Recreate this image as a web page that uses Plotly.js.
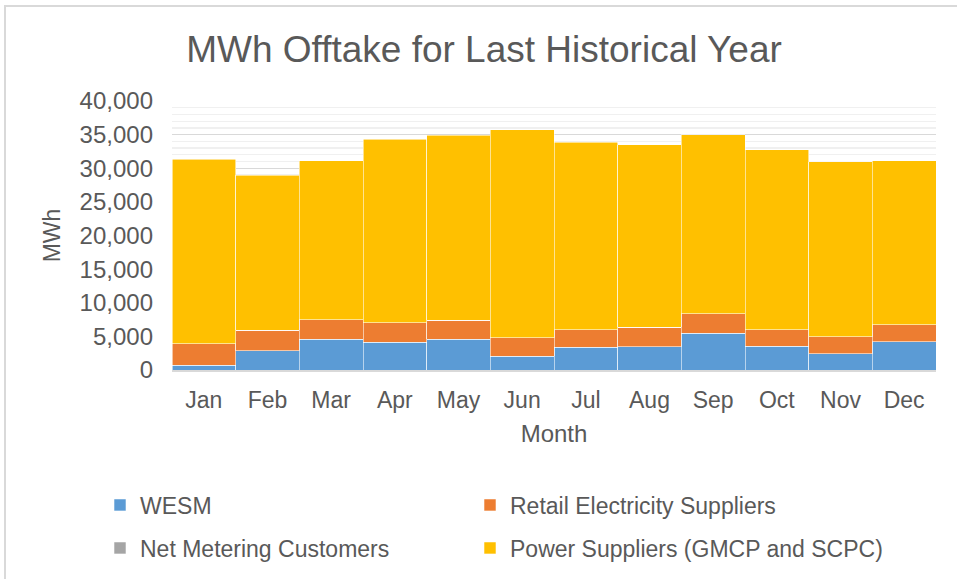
<!DOCTYPE html>
<html>
<head>
<meta charset="utf-8">
<script src="https://cdn.plot.ly/plotly-3.0.1.min.js"></script>
<style>
  html, body { margin: 0; padding: 0; background: #fff; }
  #wrap { position: relative; width: 957px; height: 579px; overflow: hidden; }
  #frame { position: absolute; left: 4px; top: 5px; width: 1000px; height: 1000px; border-left: 2px solid #d9d9d9; border-top: 2px solid #d9d9d9; box-sizing: border-box; pointer-events: none; z-index: 5; }
  #chart { position: absolute; left: 0; top: 0; width: 957px; height: 579px; }
</style>
</head>
<body>
<div id="wrap">
  <div id="chart"></div>
  <div id="frame"></div>
</div>
<script>
const months = ["Jan","Feb","Mar","Apr","May","Jun","Jul","Aug","Sep","Oct","Nov","Dec"];
const wesm = [700, 2830, 4610, 4110, 4560, 2080, 3420, 3470, 5500, 3520, 2430, 4210];
const retail = [3170, 3070, 2870, 2930, 2830, 2680, 2580, 2870, 2870, 2430, 2530, 2530];
const netMetering = [0, 0, 0, 0, 0, 0, 0, 0, 0, 0, 0, 0];
const powerSuppliers = [27500, 23050, 23600, 27310, 27550, 30930, 27850, 27120, 26620, 26810, 26020, 24340];
const yTicks = [0, 5000, 10000, 15000, 20000, 25000, 30000, 35000, 40000];

const textColor = "#595959";
const font = "Liberation Sans, Arial, sans-serif";
const edge = { color: "rgba(255,255,255,0.7)", width: 0.8 };

const traces = [
  { name: "WESM", y: wesm, color: "#5B9BD5", legend: "legend" },
  { name: "Retail Electricity Suppliers", y: retail, color: "#ED7D31", legend: "legend2" },
  { name: "Net Metering Customers", y: netMetering, color: "#A5A5A5", legend: "legend3" },
  { name: "Power Suppliers (GMCP and SCPC)", y: powerSuppliers, color: "#FFC000", legend: "legend4" }
].map(s => ({
  type: "bar",
  x: months,
  y: s.y,
  name: s.name,
  legend: s.legend,
  marker: { color: s.color, line: edge },
  hoverinfo: "x+y+name"
}));

const legendCommon = {
  orientation: "h",
  xref: "container", yref: "container",
  xanchor: "left", yanchor: "middle",
  font: { family: font, size: 23, color: textColor },
  itemwidth: 30,
  traceorder: "normal",
  bgcolor: "rgba(0,0,0,0)"
};
const legendAt = (px, py) => Object.assign({}, legendCommon, { x: px / 957, y: 1 - py / 579 });

const layout = {
  width: 957, height: 579,
  paper_bgcolor: "#ffffff", plot_bgcolor: "#ffffff",
  margin: { l: 172, r: 21, t: 101, b: 209 },
  barmode: "stack", bargap: 0,
  font: { family: font, color: textColor },
  title: {
    text: "MWh Offtake for Last Historical Year",
    font: { family: font, size: 37, color: textColor },
    x: 484 / 957, xref: "container", xanchor: "center",
    y: 1 - 49 / 579, yref: "container", yanchor: "middle"
  },
  xaxis: {
    type: "category",
    range: [-0.5, 11.5],
    showline: true, linecolor: "#d9d9d9", linewidth: 2,
    showgrid: false, ticks: "",
    tickfont: { family: font, size: 23, color: textColor },
    ticklabelstandoff: 8,
    title: { text: "Month", font: { family: font, size: 24, color: textColor }, standoff: 14 }
  },
  yaxis: {
    range: [0, 40000],
    tickvals: yTicks,
    tickformat: ",d",
    showline: false, zeroline: false,
    showgrid: true, gridcolor: "#d9d9d9", gridwidth: 1.3,
    minor: { dtick: 1000, showgrid: true, gridcolor: "#f0f0f0", gridwidth: 1.3 },
    ticks: "",
    tickfont: { family: font, size: 24, color: textColor },
    ticklabelstandoff: 18,
    title: { text: "MWh", font: { family: font, size: 23, color: textColor }, standoff: 12 }
  },
  legend: legendAt(100, 505),
  legend2: legendAt(470, 505),
  legend3: legendAt(100, 548),
  legend4: legendAt(470, 548),
  showlegend: true
};

Plotly.newPlot("chart", traces, layout, { displayModeBar: false, staticPlot: true });
</script>
</body>
</html>
